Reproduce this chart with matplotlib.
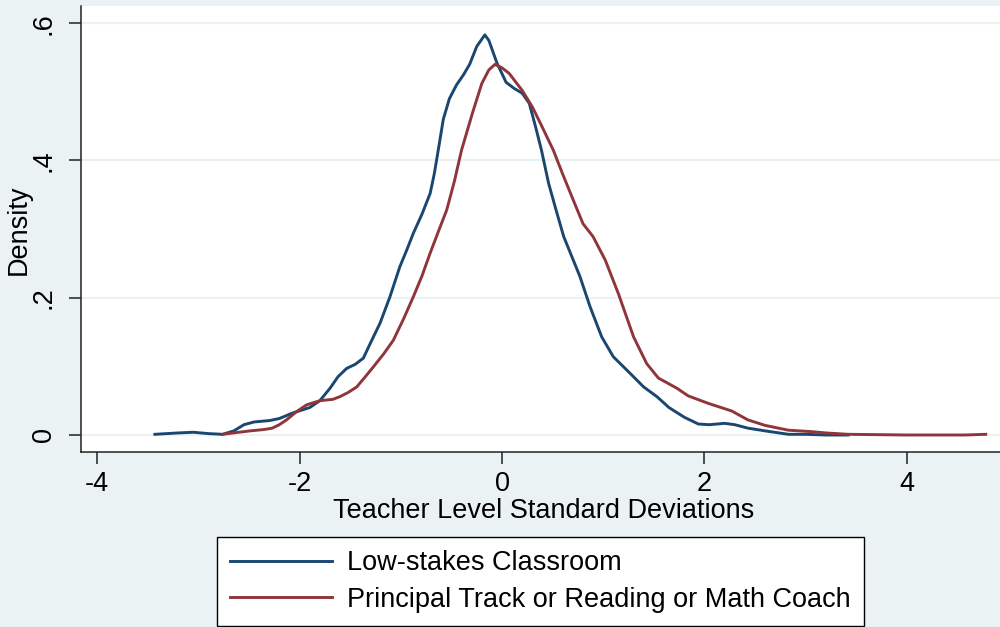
import matplotlib
matplotlib.use("Agg")
import matplotlib.pyplot as plt

plt.rcParams['font.family'] = ['Liberation Sans', 'DejaVu Sans']

# Low-stakes Classroom density
blue_x = [-3.43, -3.2, -3.05, -2.9, -2.76, -2.65, -2.55, -2.45, -2.3, -2.2, -2.07, -1.9, -1.8, -1.70,
          -1.62, -1.535, -1.45, -1.37, -1.30, -1.205, -1.107, -1.01, -0.94, -0.876, -0.79, -0.71, -0.67,
          -0.63, -0.58, -0.52, -0.45, -0.38, -0.32, -0.25, -0.17, -0.13, -0.05, 0.04, 0.12, 0.2, 0.27,
          0.33, 0.39, 0.46, 0.53, 0.61, 0.69, 0.77, 0.87, 0.985, 1.10, 1.265, 1.40, 1.53, 1.65, 1.8,
          1.94, 2.05, 2.2, 2.3, 2.43, 2.6, 2.83, 3.0, 3.2, 3.42]
blue_y = [0.001, 0.003, 0.004, 0.002, 0.001, 0.006, 0.015, 0.019, 0.021, 0.024, 0.032, 0.04, 0.05, 0.068,
          0.085, 0.097, 0.103, 0.112, 0.134, 0.163, 0.2015, 0.245, 0.27, 0.294, 0.322, 0.352, 0.38,
          0.415, 0.46, 0.49, 0.51, 0.525, 0.54, 0.566, 0.583, 0.575, 0.542, 0.514, 0.505, 0.498, 0.483,
          0.45, 0.415, 0.367, 0.33, 0.289, 0.26, 0.231, 0.187, 0.143, 0.114, 0.09, 0.07, 0.056, 0.040, 0.026,
          0.016, 0.015, 0.017, 0.015, 0.01, 0.006, 0.001, 0.001, 0.0, 0.0]

# Principal Track or Reading or Math Coach density
red_x = [-2.76, -2.6, -2.49, -2.35, -2.27, -2.2, -2.13, -2.03, -1.93, -1.8, -1.67, -1.60, -1.52, -1.436,
         -1.35, -1.27, -1.17, -1.074, -0.97, -0.876, -0.79, -0.71, -0.63, -0.546, -0.47, -0.40, -0.29,
         -0.20, -0.13, -0.07, 0.0, 0.07, 0.2, 0.3, 0.39, 0.507, 0.6, 0.705, 0.80, 0.90, 1.02, 1.15, 1.30,
         1.43, 1.545, 1.73, 1.84, 2.04, 2.27, 2.43, 2.6, 2.83, 3.05, 3.2, 3.42, 4.0, 4.57, 4.78]
red_y = [0.001, 0.004, 0.006, 0.008, 0.01, 0.015, 0.022, 0.034, 0.044, 0.05, 0.052, 0.056, 0.062, 0.070,
         0.085, 0.0995, 0.118, 0.138, 0.17, 0.2015, 0.232, 0.265, 0.296, 0.328, 0.37, 0.415, 0.47,
         0.512, 0.532, 0.54, 0.535, 0.527, 0.502, 0.478, 0.451, 0.415, 0.38, 0.342, 0.308, 0.289, 0.255, 0.206, 0.143,
         0.104, 0.083, 0.068, 0.057, 0.046, 0.035, 0.022, 0.014, 0.007, 0.005, 0.003, 0.001, 0.0, 0.0, 0.001]

series_labels = ["Low-stakes Classroom", "Principal Track or Reading or Math Coach"]
x_ticks = [-4, -2, 0, 2, 4]
y_ticks = [0, 0.2, 0.4, 0.6]
y_ticklabels = ["0", ".2", ".4", ".6"]

BG = "#EAF2F3"
NAVY = "#1A476F"
MAROON = "#90353B"
FS = 19.5

W, H = 1000, 627
fig = plt.figure(figsize=(W / 100, H / 100), dpi=100, facecolor=BG)

left_px, right_px, top_px, bot_px = 81, 1000, 6, 452
ax = fig.add_axes([left_px / W, 1 - bot_px / H, (right_px - left_px) / W, (bot_px - top_px) / H])
ax.set_facecolor("white")

x0_px, ppu_x = 502.0, 101.2
y0_px, ppu_y = 435.0, 686.3
ax.set_xlim((left_px - x0_px) / ppu_x, (right_px - x0_px) / ppu_x)
ax.set_ylim((y0_px - bot_px) / ppu_y, (y0_px - top_px) / ppu_y)

for yv in y_ticks:
    ax.axhline(yv, color=BG, lw=1.6, zorder=1)

ax.plot(blue_x, blue_y, color=NAVY, lw=2.1, label=series_labels[0], zorder=3)
ax.plot(red_x, red_y, color=MAROON, lw=2.1, label=series_labels[1], zorder=3)

ax.spines['top'].set_visible(False)
ax.spines['right'].set_visible(False)
for s in ('left', 'bottom'):
    ax.spines[s].set_color("#222222")
    ax.spines[s].set_linewidth(1.1)

ax.set_xticks(x_ticks)
ax.set_xticklabels([str(t) for t in x_ticks])
ax.set_yticks(y_ticks)
ax.set_yticklabels(y_ticklabels, rotation=90, va='center')
ax.tick_params(axis='both', direction='out', length=8.5, width=1.1, color="#222222",
               labelsize=FS)
ax.tick_params(axis='x', pad=5)
ax.tick_params(axis='y', pad=9)

fig.text(19 / W, 1 - 230 / H, "Density", rotation=90, ha='center', va='center', fontsize=FS)
fig.text(544 / W, 1 - 511 / H, "Teacher Level Standard Deviations", ha='center', va='center', fontsize=FS)

leg = fig.legend(loc='center', bbox_to_anchor=(540.5 / W, 1 - 581.5 / H), fontsize=FS,
                 frameon=True, fancybox=False, edgecolor='black', facecolor='white', framealpha=1,
                 handlelength=3.75, handletextpad=0.56, labelspacing=0.4, borderpad=0.5,
                 borderaxespad=0)
leg.get_frame().set_linewidth(1.0)

fig.savefig("out.png", dpi=100, facecolor=BG)
